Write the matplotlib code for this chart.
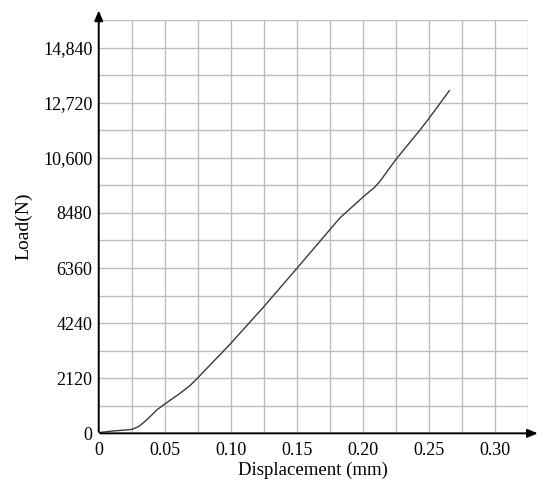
import matplotlib
matplotlib.use("Agg")
import matplotlib.pyplot as plt

# Load-displacement curve
displacement = [0.0, 0.011, 0.025, 0.030, 0.0338, 0.0376, 0.0439, 0.050, 0.0616,
                0.0692, 0.0742, 0.0995, 0.1247, 0.150, 0.1752, 0.1828, 0.2005,
                0.2093, 0.2131, 0.2255, 0.2434, 0.2497, 0.2656]
load = [30, 90, 150, 255, 408, 577, 897, 1127, 1540,
        1840, 2090, 3430, 4850, 6340, 7840, 8290, 9103,
        9480, 9700, 10560, 11670, 12081, 13182]

x_ticks = [0, 0.05, 0.10, 0.15, 0.20, 0.25, 0.30]
x_tick_labels = ["0", "0.05", "0.10", "0.15", "0.20", "0.25", "0.30"]
y_ticks = [0, 2120, 4240, 6360, 8480, 10600, 12720, 14840]
y_tick_labels = ["0", "2120", "4240", "6360", "8480", "10,600", "12,720", "14,840"]

plt.rcParams['font.family'] = ['Liberation Serif', 'DejaVu Serif']

fig = plt.figure(figsize=(5.5, 4.88), dpi=100)
ax = fig.add_axes([0.1795, 0.112, 0.78, 0.847])

# grid every half tick
for gx in [i * 0.025 for i in range(1, 14)]:
    ax.axvline(gx, color="#bdbdbd", lw=1.0, zorder=0)
for gy in [i * 1060 for i in range(1, 16)]:
    ax.axhline(gy, color="#bdbdbd", lw=1.0, zorder=0)

ax.plot(displacement, load, color="#3a3a3a", lw=1.0)

ax.set_xlim(0, 0.325)
ax.set_ylim(0, 15900)
ax.set_xticks(x_ticks)
ax.set_xticklabels(x_tick_labels)
ax.set_yticks(y_ticks)
ax.set_yticklabels(y_tick_labels)
ax.tick_params(axis="x", length=0, pad=6.5, labelsize=13)
ax.tick_params(axis="y", length=0, pad=4.5, labelsize=13)

for s in ax.spines.values():
    s.set_visible(False)

# axis arrows
arrow = dict(arrowstyle="-|>,head_length=0.6,head_width=0.25", color="black", lw=1.4)
ax.annotate("", xy=(0, 1.03), xytext=(0, -0.003), xycoords="axes fraction", arrowprops=arrow)
ax.annotate("", xy=(1.03, 0), xytext=(-0.003, 0), xycoords="axes fraction", arrowprops=arrow)

# x label placed by hand so it sits just under the tick labels
fig.text(0.5695, 0.036, "Displacement (mm)", fontsize=13.5, ha="center", va="center")
ax.set_ylabel("Load(N)", fontsize=14, labelpad=8)

fig.savefig("out.png", dpi=100)
